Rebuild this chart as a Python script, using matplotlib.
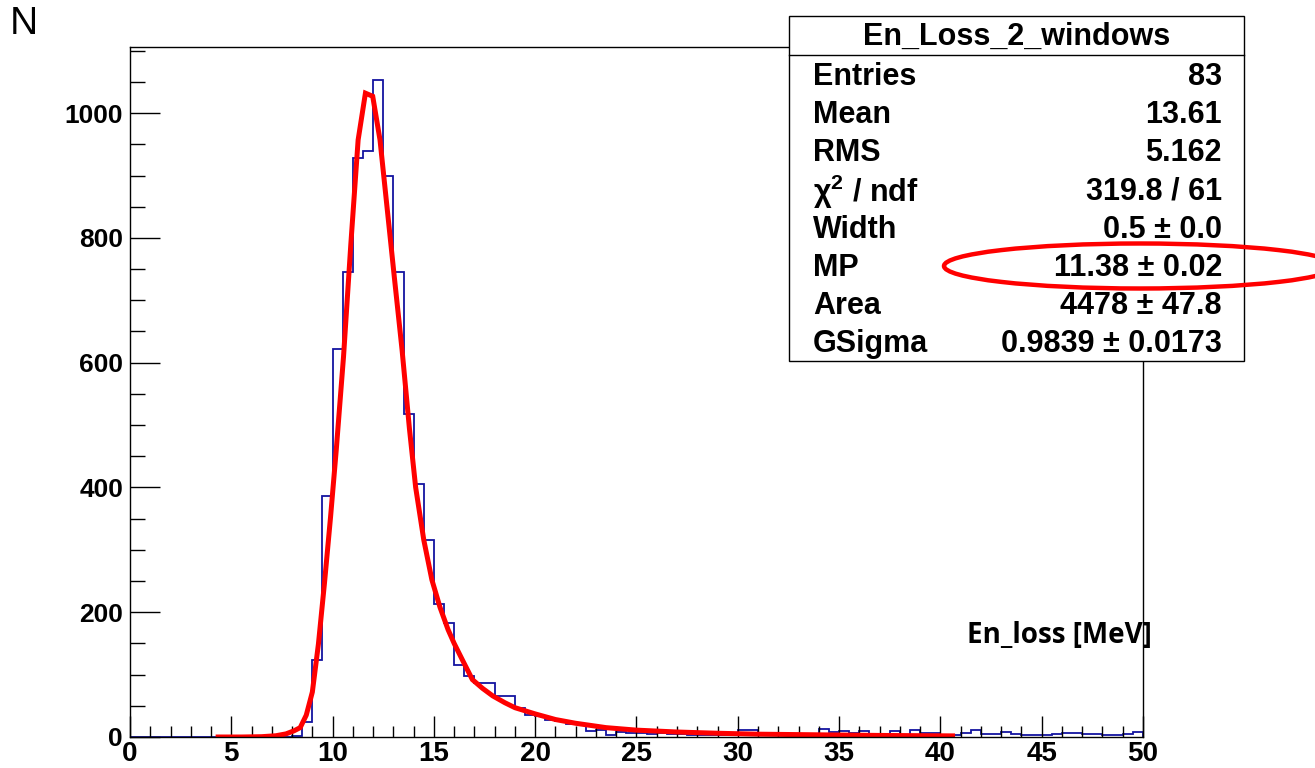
import matplotlib
matplotlib.use("Agg")
import matplotlib.pyplot as plt
import numpy as np
from matplotlib.patches import Rectangle, Ellipse
from matplotlib.lines import Line2D
from matplotlib.ticker import MultipleLocator

plt.rcParams['font.family'] = ['Liberation Sans', 'DejaVu Sans']
plt.rcParams['mathtext.fontset'] = 'custom'
plt.rcParams['mathtext.rm'] = 'Liberation Sans:bold'
plt.rcParams['mathtext.it'] = 'Liberation Sans:bold'

# histogram: 100 bins of 0.5 MeV from 0 to 50
bin_lo = 0.0
bin_w = 0.5
counts = [
    0, 0, 0, 0, 0, 0, 0, 0, 0, 0, 0, 0, 0, 0, 0, 0,
    2, 24, 123, 387, 622, 745, 928, 939, 1053, 899,
    745, 517, 406, 315, 213, 182, 115, 97, 86, 86,
    65, 65, 46, 36, 34, 27, 26, 21, 21, 9,
    12, 3, 8, 6, 6, 5, 6, 5, 5, 4,
    4, 3, 3, 5, 11, 12, 6, 6, 5, 5,
    5, 5, 13, 8, 9, 6, 9, 5, 5, 9,
    4, 11, 6, 7, 3, 3, 7, 11, 5, 5,
    8, 5, 3, 3, 3, 5, 7, 7, 5, 5,
    4, 4, 5, 8,
]

# fitted Landau x Gauss curve
fit_x = [4.35, 5.5, 6.5, 7.2, 7.7, 8.1, 8.4, 8.7, 9.0, 9.3, 9.6, 9.9,
         10.18, 10.54, 10.90, 11.26, 11.62, 11.98, 12.34, 12.70, 13.06,
         13.43, 13.79, 14.1, 14.5, 14.9, 15.3, 15.7, 16.0, 16.4, 16.9,
         17.4, 17.9, 18.5, 19.0, 20.0, 21.0, 22.0, 23.5, 25.0, 27.0,
         29.0, 31.0, 34.0, 37.0, 40.6]
fit_y = [0, 0, 0.5, 2, 5, 10, 15, 35, 72, 149, 247, 353,
         460, 610, 790, 957, 1032, 1027, 957, 845, 733,
         620, 495, 400, 316, 252, 208, 172, 150, 124, 92,
         78, 66, 55, 47, 37, 28, 22, 15, 11, 8,
         6, 4.5, 3.5, 2.5, 1.8]

stat_names = ["Entries", "Mean", "RMS", r"χ$^{2}$ / ndf", "Width", "MP", "Area", "GSigma"]
stat_values = ["83", "13.61", "5.162", "319.8 / 61", "0.5 ± 0.0",
               "11.38 ± 0.02", "4478 ± 47.8", "0.9839 ± 0.0173"]

W, H = 1315, 768
fig = plt.figure(figsize=(W / 100, H / 100), dpi=100)
ax = fig.add_axes([130 / W, 1 - 737 / H, (1143 - 130) / W, (737 - 47) / H])

edges = bin_lo + bin_w * np.arange(len(counts) + 1)
ax.stairs(counts, edges, color="#1414a0", lw=1.3, baseline=0)
ax.plot(fit_x, fit_y, color="#ff0000", lw=3.6, solid_joinstyle="miter")

ax.set_xlim(0, 50)
ax.set_ylim(0, 1106)
ax.xaxis.set_major_locator(MultipleLocator(5))
ax.xaxis.set_minor_locator(MultipleLocator(1))
ax.yaxis.set_major_locator(MultipleLocator(200))
ax.yaxis.set_minor_locator(MultipleLocator(50))
ax.tick_params(axis="x", which="major", direction="in", length=15, width=1, labelsize=20, pad=3)
ax.tick_params(axis="x", which="minor", direction="in", length=8, width=1)
ax.tick_params(axis="y", which="major", direction="in", length=21.5, width=1, labelsize=19, pad=5)
ax.tick_params(axis="y", which="minor", direction="in", length=11, width=1)
for lab in ax.get_xticklabels() + ax.get_yticklabels():
    lab.set_fontweight("bold")
for s in ax.spines.values():
    s.set_linewidth(1.0)

fig.text(10 / W, 1 - 24 / H, "N", fontsize=28, ha="left", va="center")
fig.text(1152 / W, 1 - 636 / H, "En_loss [MeV]", fontsize=20, fontweight="bold",
         family=["Open Sans", "DejaVu Sans"], ha="right", va="center")

# stats box
bx0, bx1, by0, by1 = 789, 1244, 16, 361
fig.add_artist(Rectangle((bx0 / W, 1 - by1 / H), (bx1 - bx0) / W, (by1 - by0) / H,
                         transform=fig.transFigure, facecolor="white", edgecolor="black",
                         lw=1.0, zorder=5))
fig.add_artist(Line2D([bx0 / W, bx1 / W], [1 - 55 / H, 1 - 55 / H],
                      transform=fig.transFigure, color="black", lw=1.0, zorder=6))
fig.text((bx0 + bx1) / 2 / W, 1 - 37 / H, "En_Loss_2_windows", fontsize=22,
         fontweight="bold", ha="center", va="center", zorder=7)
for i, (name, val) in enumerate(zip(stat_names, stat_values)):
    yc = 1 - (77 + 38.2 * i) / H
    fig.text(813 / W, yc, name, fontsize=22, fontweight="bold", ha="left", va="center", zorder=7)
    fig.text(1222 / W, yc, val, fontsize=22, fontweight="bold", ha="right", va="center", zorder=7)

fig.add_artist(Ellipse((1140 / W, 1 - 266 / H), 392 / W, 45 / H, transform=fig.transFigure,
                       fill=False, edgecolor="#ff0000", lw=3.2, zorder=8))

fig.savefig("out.png", dpi=100)
